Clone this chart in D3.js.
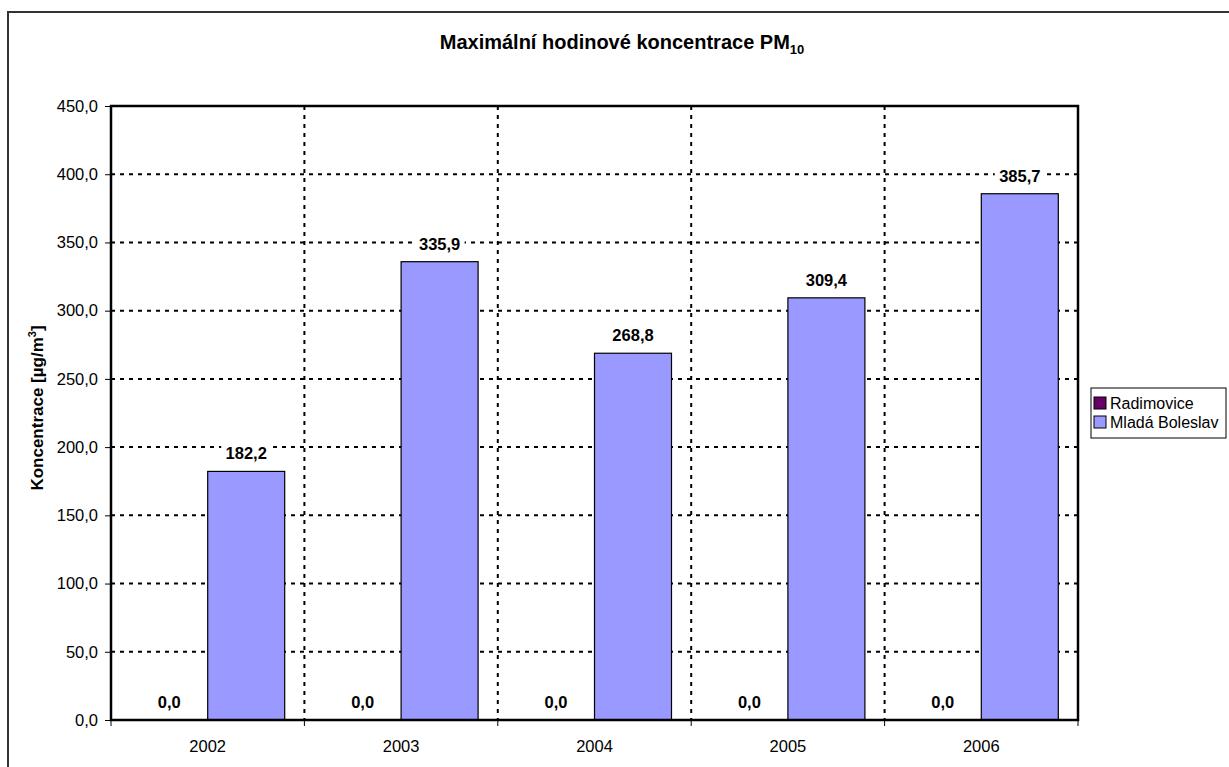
<!DOCTYPE html>
<html>
<head>
<meta charset="utf-8">
<script src="https://cdn.jsdelivr.net/npm/d3@7"></script>
<style>
  html, body { margin: 0; padding: 0; background: #fff; }
  svg { display: block; font-family: "Liberation Sans", Arial, sans-serif; }
</style>
</head>
<body>
<svg id="chart" width="1229" height="767"></svg>
<script>
// Maximum hourly PM10 concentrations per year and station
const years = ["2002", "2003", "2004", "2005", "2006"];
const seriesNames = ["Radimovice", "Mladá Boleslav"];
const radimovice = [0.0, 0.0, 0.0, 0.0, 0.0];
const mladaBoleslav = [182.2, 335.9, 268.8, 309.4, 385.7];
const yTicks = [0, 50, 100, 150, 200, 250, 300, 350, 400, 450];
const seriesColors = ["#660066", "#9999FF"];

const seriesValues = [radimovice, mladaBoleslav];
const fmt = v => v.toFixed(1).replace(".", ",");

const svg = d3.select("#chart");
const plot = { left: 111, right: 1078, top: 106, bottom: 720 };

// outer chart frame
svg.append("rect")
  .attr("x", 8).attr("y", 12)
  .attr("width", 1240).attr("height", 780)
  .attr("fill", "#fff").attr("stroke", "#333").attr("stroke-width", 2);

const x = d3.scaleBand().domain(years).range([plot.left, plot.right]).padding(0);
const y = d3.scaleLinear().domain([0, 450]).range([plot.bottom, plot.top]);

// bars within a category: two bars, equal widths, centred
const barW = 77;
const sub = d3.scaleBand().domain(seriesNames)
  .range([x.bandwidth() / 2 - barW, x.bandwidth() / 2 + barW]).padding(0);

// horizontal gridlines
svg.append("g").selectAll("line")
  .data(yTicks.filter(t => t > 0 && t < 450))
  .join("line")
  .attr("x1", plot.left).attr("x2", plot.right)
  .attr("y1", d => y(d)).attr("y2", d => y(d))
  .attr("stroke", "#000").attr("stroke-width", 2)
  .attr("stroke-dasharray", "4,5");

// vertical gridlines at category boundaries
svg.append("g").selectAll("line")
  .data(years.slice(1))
  .join("line")
  .attr("x1", d => x(d)).attr("x2", d => x(d))
  .attr("y1", plot.top).attr("y2", plot.bottom)
  .attr("stroke", "#000").attr("stroke-width", 2)
  .attr("stroke-dasharray", "4,5");

// bars
const groups = svg.append("g").selectAll("g")
  .data(years)
  .join("g")
  .attr("transform", d => `translate(${x(d)},0)`);

const cells = (d, i) => seriesNames.map((s, k) => ({ s, k, v: seriesValues[k][i] }));

groups.selectAll("rect.bar")
  .data(cells)
  .join("rect").attr("class", "bar")
  .attr("x", d => sub(d.s))
  .attr("width", sub.bandwidth())
  .attr("y", d => y(d.v))
  .attr("height", d => y(0) - y(d.v))
  .attr("fill", d => seriesColors[d.k])
  .attr("stroke", "#000").attr("stroke-width", 1.2);

// value labels on a white backing
const labels = groups.selectAll("g.lbl")
  .data(cells)
  .join("g").attr("class", "lbl")
  .attr("transform", d => `translate(${sub(d.s) + sub.bandwidth() / 2},${y(d.v) - 12})`);
labels.append("rect")
  .attr("x", -25).attr("y", -14)
  .attr("width", 50).attr("height", 18)
  .attr("fill", "#fff");
labels.append("text")
  .attr("text-anchor", "middle")
  .attr("font-size", 16.5).attr("font-weight", "bold")
  .text(d => fmt(d.v));

// plot border
svg.append("rect")
  .attr("x", plot.left).attr("y", plot.top)
  .attr("width", plot.right - plot.left).attr("height", plot.bottom - plot.top)
  .attr("fill", "none").attr("stroke", "#000").attr("stroke-width", 2.5);

// y axis
const yAxis = svg.append("g")
  .attr("transform", `translate(${plot.left},0)`)
  .call(d3.axisLeft(y).tickValues(yTicks).tickSize(6).tickPadding(7).tickFormat(fmt));
yAxis.select(".domain").remove();
yAxis.selectAll("line").attr("stroke", "#000");
yAxis.selectAll("text").attr("font-size", 16.5).attr("fill", "#000")
  .attr("font-family", "'Liberation Sans', Arial, sans-serif");

// x axis: ticks at category boundaries, labels centred
const xAxisG = svg.append("g").attr("transform", `translate(0,${plot.bottom})`);
xAxisG.selectAll("line")
  .data(years.map(d => x(d)).concat([plot.right]))
  .join("line")
  .attr("x1", d => d).attr("x2", d => d)
  .attr("y1", 0).attr("y2", 6)
  .attr("stroke", "#000");
xAxisG.selectAll("text")
  .data(years)
  .join("text")
  .attr("x", d => x(d) + x.bandwidth() / 2)
  .attr("y", 32)
  .attr("text-anchor", "middle")
  .attr("font-size", 16.5)
  .text(d => d);

// title
const title = svg.append("text")
  .attr("x", 622).attr("y", 49)
  .attr("text-anchor", "middle")
  .attr("font-size", 20).attr("font-weight", "bold");
title.append("tspan").text("Maximální hodinové koncentrace PM");
title.append("tspan").attr("font-size", 13).attr("dy", 5).text("10");

// y axis title
const yTitle = svg.append("text")
  .attr("transform", "translate(43,408) rotate(-90)")
  .attr("text-anchor", "middle")
  .attr("font-size", 17).attr("font-weight", "bold");
yTitle.append("tspan").text("Koncentrace [µg/m");
yTitle.append("tspan").attr("font-size", 11).attr("dy", -7).text("3");
yTitle.append("tspan").attr("dy", 7).text("]");

// legend
const legend = svg.append("g").attr("transform", "translate(1091,388)");
legend.append("rect")
  .attr("width", 135).attr("height", 50)
  .attr("fill", "#fff").attr("stroke", "#000").attr("stroke-width", 1);
const items = legend.selectAll("g.item")
  .data(seriesNames)
  .join("g").attr("class", "item")
  .attr("transform", (d, i) => `translate(3,${9 + i * 19})`);
items.append("rect")
  .attr("width", 12).attr("height", 12)
  .attr("fill", (d, i) => seriesColors[i])
  .attr("stroke", "#000").attr("stroke-width", 1);
items.append("text")
  .attr("x", 16).attr("y", 12)
  .attr("font-size", 16)
  .text(d => d);
</script>
</body>
</html>
